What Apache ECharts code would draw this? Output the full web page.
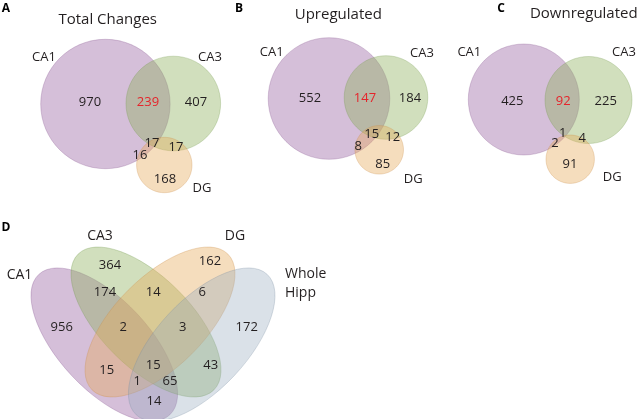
<!DOCTYPE html>
<html>
<head>
<meta charset="utf-8">
<script src="https://cdn.jsdelivr.net/npm/echarts@6/dist/echarts.min.js"></script>
<style>
html,body{margin:0;padding:0;background:#fff;}
#chart{width:640px;height:419px;}
</style>
</head>
<body>
<div id="chart"></div>
<script>
// ---------------- DATA ----------------
const panelLetters = ['A', 'B', 'C', 'D'];
const panelTitles = ['Total Changes', 'Upregulated', 'Downregulated'];
const threeSetNames = ['CA1', 'CA3', 'DG'];
// region order: CA1 only, CA1∩CA3, CA3 only, CA1∩CA3∩DG, CA3∩DG, CA1∩DG, DG only
const totalChanges = [970, 239, 407, 17, 17, 16, 168];
const upregulated = [552, 147, 184, 15, 12, 8, 85];
const downregulated = [425, 92, 225, 1, 4, 2, 91];
const fourSetNames = ['CA1', 'CA3', 'DG', 'Whole\nHipp'];
// region order: CA1, CA3, DG, Whole, CA1∩CA3, CA3∩DG, DG∩Whole, CA1∩CA3∩DG, CA3∩DG∩Whole,
// CA1∩DG, all four, CA3∩Whole, CA1∩DG∩Whole, CA1∩CA3∩Whole, CA1∩Whole
const fourSetCounts = [956, 364, 162, 172, 174, 14, 6, 2, 3, 15, 15, 43, 1, 65, 14];
const highlightRegion = 1; // CA1∩CA3 shown in red

// ---------------- LAYOUT (pixel space 640x419) ----------------
const setColors = {
  CA1: ['rgba(150,95,160,0.40)', 'rgba(130,80,140,0.35)'],
  CA3: ['rgba(140,175,90,0.40)', 'rgba(110,150,70,0.35)'],
  DG: ['rgba(230,170,90,0.40)', 'rgba(200,140,70,0.35)'],
  Whole: ['rgba(150,170,190,0.35)', 'rgba(120,140,160,0.35)']
};
// circles: [cx, cy, r]
const circleLayout = [
  [[105.4, 104, 64.7], [173.3, 103.5, 47.3], [164.3, 165, 27.7]],
  [[329, 98.5, 60.8], [386, 97.5, 41.8], [379.2, 149.8, 24.3]],
  [[523.8, 99.5, 55.5], [588.5, 100, 43.5], [570.2, 159.2, 24.2]]
];
// ellipses: [cx, cy, a, b, angleDeg (clockwise tilt of major axis)]
const ellipseLayout = [
  [104.3, 344.6, 96, 45, 47],
  [146, 322, 96, 45, 45],
  [160, 322, 96, 45, -45],
  [201.7, 344.6, 96, 45, -47]
];
const threeCountPos = [
  [[90, 102], [148, 102], [196, 102], [152, 143], [176, 147], [140, 155], [165, 179]],
  [[310, 98], [365, 98], [410, 98], [371.7, 134], [392.7, 137], [358.3, 146], [382.7, 164]],
  [[512.3, 101], [563.3, 101], [605.7, 101], [562.7, 133], [582.3, 138], [555, 143], [570, 164]]
];
const threeNamePos = [
  [[44, 57], [210, 57], [202, 188]],
  [[271.7, 52.3], [422, 53], [413.3, 179]],
  [[469.3, 52], [624, 52], [612.3, 177]]
];
const titlePos = [[107.7, 20], [338.3, 14.3], [583.8, 14]];
const letterPos = [[6, 9], [239, 8.5], [501, 8.5], [6, 228]];
const fourCountPos = [
  [61.7, 327.3], [110, 265], [210, 261], [246.7, 327.3], [105, 292.3], [153.3, 292.3], [202.3, 292.3],
  [123.3, 327.3], [182.7, 327.3], [106.7, 370], [153.3, 365.7], [210.7, 365.7], [137.3, 381.7], [170, 381.7], [154, 401.7]
];
const fourNamePos = [[19.5, 275], [100, 236], [235, 236], [285, 283.5]];

// ---------------- BUILD ----------------
const FONT = '"Open Sans", "Noto Sans", sans-serif';
const shapeItems = [];
const shapeStyles = [];
const threeKeys = ['CA1', 'CA3', 'DG'];
const fourKeys = ['CA1', 'CA3', 'DG', 'Whole'];
circleLayout.forEach(panel => panel.forEach((c, i) => {
  shapeItems.push([c[0], c[1], c[2], c[2], 0]);
  shapeStyles.push(setColors[threeKeys[i]]);
}));
ellipseLayout.forEach((e, i) => {
  shapeItems.push([e[0], e[1], e[2], e[3], e[4]]);
  shapeStyles.push(setColors[fourKeys[i]]);
});

const textItems = [];
const textMeta = [];
function addText(pos, text, opt) {
  textItems.push([pos[0], pos[1]]);
  textMeta.push(Object.assign({ text: String(text), size: 13, weight: 'normal', color: '#231f20', align: 'center' }, opt || {}));
}
const threeData = [totalChanges, upregulated, downregulated];
threeData.forEach((vals, p) => {
  vals.forEach((v, i) => addText(threeCountPos[p][i], v, i === highlightRegion ? { color: '#e5242b' } : {}));
  threeSetNames.forEach((n, i) => addText(threeNamePos[p][i], n, {}));
  addText(titlePos[p], panelTitles[p], { size: 15 });
});
panelLetters.forEach((l, i) => addText(letterPos[i], l, { size: 12, weight: 'bold', color: '#000' }));
fourSetCounts.forEach((v, i) => addText(fourCountPos[i], v, {}));
fourSetNames.forEach((n, i) => addText(fourNamePos[i], n, { size: 14, align: i === 3 ? 'left' : 'center', lineHeight: 19 }));

const chart = echarts.init(document.getElementById('chart'), null, { renderer: 'canvas' });
chart.setOption({
  animation: false,
  backgroundColor: '#ffffff',
  grid: { left: 0, right: 0, top: 0, bottom: 0 },
  xAxis: { type: 'value', min: 0, max: 640, show: false },
  yAxis: { type: 'value', min: 0, max: 419, inverse: true, show: false },
  series: [
    {
      type: 'custom',
      name: 'sets',
      coordinateSystem: 'cartesian2d',
      data: shapeItems,
      silent: true,
      renderItem: function (params, api) {
        const c = api.coord([api.value(0), api.value(1)]);
        const s = api.size([1, 1]);
        const st = shapeStyles[params.dataIndex];
        return {
          type: 'ellipse',
          x: c[0], y: c[1],
          rotation: -api.value(4) * Math.PI / 180,
          shape: { cx: 0, cy: 0, rx: api.value(2) * s[0], ry: api.value(3) * s[1] },
          style: { fill: st[0], stroke: st[1], lineWidth: 0.8 }
        };
      }
    },
    {
      type: 'custom',
      name: 'labels',
      coordinateSystem: 'cartesian2d',
      data: textItems,
      silent: true,
      z: 5,
      renderItem: function (params, api) {
        const c = api.coord([api.value(0), api.value(1)]);
        const m = textMeta[params.dataIndex];
        return {
          type: 'text',
          x: c[0], y: c[1],
          style: {
            text: m.text,
            fill: m.color,
            fontSize: m.size,
            fontWeight: m.weight,
            fontFamily: FONT,
            lineHeight: m.lineHeight || m.size * 1.2,
            align: m.align,
            verticalAlign: 'middle'
          }
        };
      }
    }
  ]
});
</script>
</body>
</html>
